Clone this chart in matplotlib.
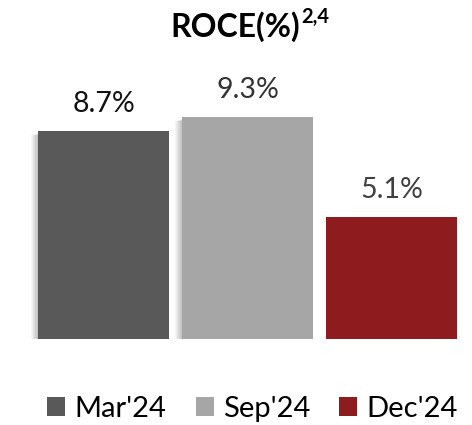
import matplotlib
matplotlib.use("Agg")
import matplotlib.pyplot as plt
from matplotlib.patches import Rectangle

categories = ["Mar'24", "Sep'24", "Dec'24"]
values = [8.7, 9.3, 5.1]
labels = ["8.7%", "9.3%", "5.1%"]
colors = ["#595959", "#A6A6A6", "#8E1B1E"]
label_colors = ["#111111", "#333333", "#404040"]
title = "ROCE(%)"
title_sup = "2,4"

W, H = 472, 425
fig = plt.figure(figsize=(W / 100, H / 100), dpi=100)
plt.rcParams['font.family'] = ['Lato', 'DejaVu Sans']

px_x = 144.0
px_y = 23.9
base = 86
ax = fig.add_axes([0, base / H, 1, (H - base) / H])
ax.set_xlim(-103.5 / px_x, (W - 103.5) / px_x)
ax.set_ylim(0, (H - base) / px_y)
ax.axis('off')

width = 0.91
xs = list(range(len(values)))

# soft shadow for first two bars
for i in range(2):
    for k in range(1, 8):
        dx = k / px_x
        dy = k * 0.4 / px_y
        ax.add_patch(Rectangle((xs[i] - width / 2 - dx, -dy), width + dx * 0.2, values[i] + dy * 0.2 - 2 / px_y,
                               facecolor='black', alpha=0.035, linewidth=0, zorder=1))

ax.bar(xs, values, width=width, color=colors, zorder=3, linewidth=0)
for x, v, lab, c in zip(xs, values, labels, label_colors):
    ax.annotate(lab, (x, v), xytext=(0, 14), textcoords='offset pixels', ha='center', va='bottom',
                fontsize=20.5, color=c)

# title (main + superscript, measured so they sit side by side, centred as a group)
renderer = fig.canvas.get_renderer()
t1 = fig.text(0, 1 - 37 / H, title, fontsize=23, fontweight='bold', ha='left', va='baseline', color='black')
t2 = fig.text(0, 1 - 23 / H, title_sup, fontsize=14.5, fontweight='bold', ha='left', va='baseline', color='black')
w1 = t1.get_window_extent(renderer).width
w2 = t2.get_window_extent(renderer).width
gap = 1
total = w1 + gap + w2
left = 250 - total / 2
t1.set_x(left / W)
t2.set_x((left + w1 + gap) / W)

# legend
handles = [Rectangle((0, 0), 1, 1, facecolor=c, linewidth=0) for c in colors]
fig.legend(handles, categories, loc='center', bbox_to_anchor=(252.5 / W, 16 / H), ncol=3, frameon=False,
           fontsize=21, handlelength=0.62, handleheight=0.62, handletextpad=0.31, columnspacing=1.0,
           borderaxespad=0.0, borderpad=0.0)

fig.savefig("out.png", dpi=100)
